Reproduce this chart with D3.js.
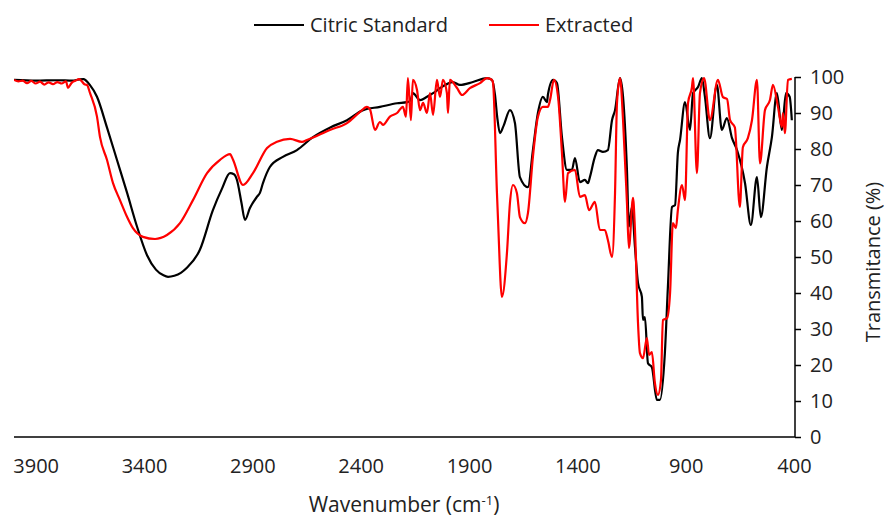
<!DOCTYPE html>
<html>
<head>
<meta charset="utf-8">
<script src="https://cdn.jsdelivr.net/npm/d3@7"></script>
<style>
  body { margin: 0; background: #fff; }
  text { font-family: "Open Sans", sans-serif; fill: #222; }
</style>
</head>
<body>
<div id="chart"></div>
<script>
// Citric Standard (black)
const citricWavenumber = [4000, 3900, 3800, 3730, 3700, 3680, 3650, 3617, 3571, 3525, 3478, 3432, 3386, 3345, 3310, 3289, 3260, 3230, 3202, 3142, 3082, 3040, 3003, 2985, 2971, 2950, 2934, 2911, 2879, 2865, 2851, 2819, 2759, 2694, 2620, 2540, 2463, 2389, 2311, 2232, 2186, 2170, 2159, 2126, 2094, 2066, 2034, 1974, 1942, 1882, 1817, 1794, 1780, 1770, 1757, 1740, 1711, 1688, 1665, 1628, 1605, 1582, 1559, 1540, 1536, 1512, 1494, 1471, 1448, 1425, 1411, 1388, 1365, 1351, 1342, 1319, 1305, 1282, 1259, 1240, 1226, 1203, 1189, 1171, 1162, 1148, 1134, 1120, 1102, 1097, 1088, 1074, 1056, 1033, 1019, 996, 982, 963, 949, 936, 926, 903, 880, 866, 843, 825, 811, 788, 756, 733, 710, 686, 663, 626, 599, 571, 553, 525, 502, 479, 456, 437, 420, 410];
const citricTransmittance = [99.2, 99.0, 99.1, 99.0, 99.3, 99.4, 97.8, 94.5, 86, 77, 67.8, 58.4, 50.5, 46.5, 44.9, 44.5, 44.8, 45.6, 47, 52, 63, 69, 73.3, 73, 71.4, 65, 60.3, 63.6, 66.7, 67.8, 70.5, 75, 77.8, 79.7, 83.3, 86, 88, 90.8, 91.7, 92.7, 93, 93.5, 95.5, 93.6, 94.5, 95.5, 96.9, 98.6, 97.8, 98.6, 99.7, 99.2, 95, 89, 84.4, 86.5, 90.8, 87.2, 72.2, 69.4, 79.7, 90, 94.5, 93, 95, 99.2, 98.3, 83.3, 74.2, 74.2, 77.5, 70.8, 71.4, 70.5, 72.2, 77.8, 79.7, 79.2, 79.7, 88, 90.8, 99.7, 94.5, 74.2, 58.4, 63.9, 52.8, 42.8, 38.9, 32.5, 33.3, 20.5, 19.4, 10.3, 10.3, 23.3, 41.7, 63.9, 64.4, 78.9, 82.5, 93, 85.3, 95.5, 97.2, 99.7, 94.5, 83, 97.8, 85.3, 88.6, 83, 79.7, 70.5, 58.9, 72.2, 61.1, 75, 83.3, 95.5, 85.3, 95.5, 94.5, 88];

// Extracted (red)
const extractedWavenumber = [4000, 3980, 3960, 3940, 3920, 3900, 3880, 3860, 3840, 3820, 3800, 3780, 3760, 3751, 3735, 3715, 3700, 3690, 3675, 3663, 3649, 3617, 3603, 3571, 3543, 3511, 3478, 3451, 3405, 3349, 3294, 3234, 3174, 3109, 3049, 3003, 2989, 2943, 2897, 2832, 2786, 2726, 2671, 2648, 2542, 2463, 2403, 2371, 2357, 2334, 2311, 2297, 2265, 2232, 2205, 2191, 2182, 2168, 2159, 2140, 2126, 2112, 2094, 2080, 2066, 2048, 2034, 2020, 2002, 1997, 1988, 1956, 1932, 1896, 1849, 1817, 1794, 1789, 1771, 1766, 1748, 1725, 1711, 1697, 1679, 1665, 1642, 1628, 1605, 1582, 1559, 1536, 1526, 1508, 1489, 1471, 1457, 1443, 1411, 1388, 1365, 1346, 1319, 1296, 1273, 1259, 1240, 1226, 1217, 1203, 1189, 1171, 1162, 1143, 1134, 1120, 1111, 1097, 1079, 1069, 1056, 1042, 1028, 1014, 1005, 986, 972, 959, 945, 936, 917, 903, 889, 871, 866, 848, 834, 815, 788, 751, 728, 709, 695, 673, 650, 636, 613, 594, 571, 557, 534, 511, 497, 474, 456, 451, 442, 428, 410];
const extractedTransmittance = [99.2, 98.8, 99.0, 98.3, 98.9, 98.2, 98.7, 97.9, 98.5, 98.0, 98.6, 98.2, 98.8, 97.0, 98.3, 99.0, 99.4, 99.0, 98.0, 97.8, 95.5, 89, 83.3, 77, 70.5, 65.8, 61.1, 58, 55.6, 55, 56.1, 59.4, 65.8, 73.3, 77, 78.6, 77, 70, 73.3, 80.3, 82, 82.8, 82, 82.5, 85.3, 87.2, 90.3, 91.7, 91, 85.3, 87.5, 86.7, 89, 90, 91.7, 89, 99.7, 88, 99.2, 96.4, 90.8, 92.8, 90, 95.5, 89.5, 99.2, 94.5, 99.2, 95.5, 90, 99.2, 97, 95, 96.9, 98.3, 99.7, 99.2, 98.3, 67.8, 60.3, 38.9, 51, 65, 70, 67.8, 61.1, 59.4, 62.2, 77.8, 88.9, 91.7, 91.7, 93.6, 99.2, 94.5, 78.9, 65.3, 73.3, 74.2, 66.7, 67.2, 63, 65.3, 57.5, 57.5, 54.7, 50, 67.8, 92.8, 99.7, 88, 65, 52.5, 66.4, 57.5, 31.7, 23.3, 21.9, 27.5, 22.8, 23.6, 15, 11.7, 15.8, 32.5, 33, 40, 59.4, 58, 63, 70, 65.8, 92.8, 97.2, 99.7, 73.3, 95.5, 99.7, 88, 99.2, 94.4, 93.9, 88, 86, 63.9, 80.5, 83, 88, 99.2, 76, 90.8, 93.6, 97.8, 91.7, 86.1, 90, 84.4, 99.2, 99.5];

const xTicks = [3900, 3400, 2900, 2400, 1900, 1400, 900, 400];
const yTicks = [0, 10, 20, 30, 40, 50, 60, 70, 80, 90, 100];

const width = 885, height = 520;
const plot = { left: 14, right: 795, top: 77, bottom: 437 };

const svg = d3.select("#chart").append("svg")
    .attr("width", width)
    .attr("height", height);

const x = d3.scaleLinear().domain([4000, 400]).range([plot.left, plot.right - 1]);
const y = d3.scaleLinear().domain([0, 100]).range([plot.bottom, plot.top]);

svg.append("defs").append("clipPath").attr("id", "clip")
    .append("rect")
    .attr("x", plot.left).attr("y", plot.top - 3)
    .attr("width", plot.right - plot.left).attr("height", plot.bottom - plot.top + 3);

// x axis (crosses at 0)
const xAxis = svg.append("g")
    .attr("transform", `translate(0,${plot.bottom})`)
    .call(d3.axisBottom(x).tickValues(xTicks).tickFormat(d3.format("d")).tickSize(0).tickPadding(22));
xAxis.select(".domain").attr("stroke", "#000").attr("stroke-width", 1.5)
    .attr("d", `M${plot.left},0H${plot.right}`);
xAxis.selectAll("text").style("font-size", "20px").attr("fill", "#222");

// y axis on the right, at 400
const yAxis = svg.append("g")
    .attr("transform", `translate(${plot.right},0)`)
    .call(d3.axisRight(y).tickValues(yTicks).tickSize(6).tickPadding(9));
yAxis.select(".domain").attr("stroke", "#000").attr("stroke-width", 1.5)
    .attr("d", `M0,${plot.top}V${plot.bottom}`);
yAxis.selectAll(".tick line").attr("stroke", "#000").attr("stroke-width", 1.5);
yAxis.selectAll("text").style("font-size", "20px").attr("fill", "#222");

const line = d3.line()
    .x(d => x(d[0]))
    .y(d => y(d[1]))
    .curve(d3.curveMonotoneX);

const series = [
    { name: "Citric Standard", color: "#000000", data: d3.zip(citricWavenumber, citricTransmittance) },
    { name: "Extracted", color: "#ff0000", data: d3.zip(extractedWavenumber, extractedTransmittance) }
];

svg.append("g").attr("clip-path", "url(#clip)")
    .selectAll("path")
    .data(series)
    .enter().append("path")
    .attr("fill", "none")
    .attr("stroke", d => d.color)
    .attr("stroke-width", 2.2)
    .attr("stroke-linejoin", "round")
    .attr("d", d => line(d.data));

// axis titles
const xTitle = svg.append("text")
    .attr("x", 404)
    .attr("y", 512)
    .attr("text-anchor", "middle")
    .style("font-size", "21px");
xTitle.append("tspan").text("Wavenumber (cm");
xTitle.append("tspan").attr("dy", -7).style("font-size", "13px").text("-1");
xTitle.append("tspan").attr("dy", 7).text(")");

svg.append("text")
    .attr("transform", "rotate(-90)")
    .attr("x", -262)
    .attr("y", 880)
    .attr("text-anchor", "middle")
    .style("font-size", "20px")
    .text("Transmitance (%)");

// legend
const legendX = [254, 489];
const legend = svg.append("g").selectAll("g")
    .data(series)
    .enter().append("g")
    .attr("transform", (d, i) => `translate(${legendX[i]},25)`);
legend.append("line")
    .attr("x1", 0).attr("x2", 50)
    .attr("stroke", d => d.color)
    .attr("stroke-width", 2.2);
legend.append("text")
    .attr("x", 56)
    .attr("y", 7)
    .style("font-size", "20px")
    .text(d => d.name);
</script>
</body>
</html>
